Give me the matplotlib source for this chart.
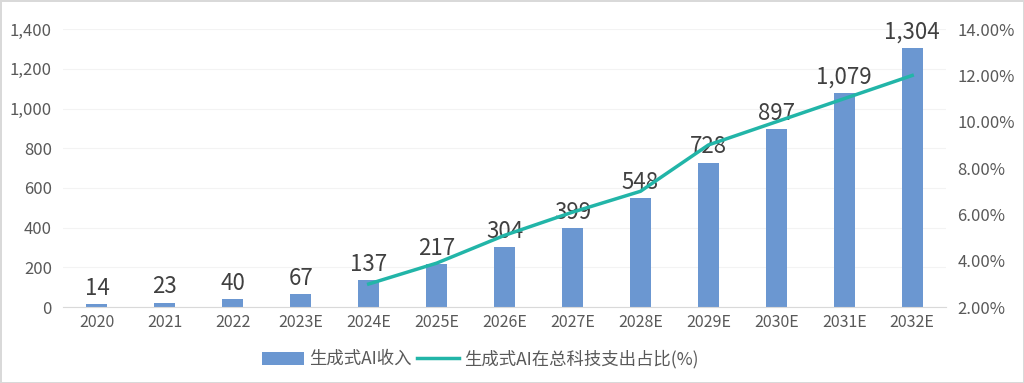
import matplotlib
matplotlib.use("Agg")
import matplotlib.pyplot as plt
from matplotlib.ticker import FuncFormatter

plt.rcParams['font.family'] = ['Noto Sans CJK SC', 'DejaVu Sans']

# data
years = ['2020', '2021', '2022', '2023E', '2024E', '2025E', '2026E',
         '2027E', '2028E', '2029E', '2030E', '2031E', '2032E']
revenue = [14, 23, 40, 67, 137, 217, 304, 399, 548, 728, 897, 1079, 1304]
share_years = years[4:]
share_pct = [3.0, 3.9, 5.1, 6.1, 7.0, 9.0, 10.0, 11.0, 12.0]

bar_color = '#6b97d1'
line_color = '#22b5a8'
text_color = '#404040'
tick_color = '#595959'

fig = plt.figure(figsize=(10.24, 3.83), dpi=100)
fig.patch.set_edgecolor('#d9d9d9')
fig.patch.set_linewidth(2)
ax = fig.add_axes([0.0615, 0.198, 0.8625, 0.726])

x = list(range(len(years)))
ax.bar(x, revenue, width=0.31, color=bar_color, zorder=2, label='生成式AI收入')
for xi, v in zip(x, revenue):
    ax.annotate(f'{v:,}', (xi, v), xytext=(0, 3), textcoords='offset points',
                ha='center', va='bottom', fontsize=16, color=text_color, zorder=5)

ax.set_xlim(-0.5, len(years) - 0.5)
ax.set_ylim(0, 1400)
ax.set_yticks(range(0, 1401, 200))
ax.yaxis.set_major_formatter(FuncFormatter(lambda v, p: f'{int(v):,}'))
ax.set_xticks(x)
ax.set_xticklabels(years)
ax.grid(axis='y', color='#f3f3f3', linewidth=0.8, zorder=0)
for s in ['top', 'right', 'left']:
    ax.spines[s].set_visible(False)
ax.spines['bottom'].set_color('#d9d9d9')
ax.tick_params(axis='y', length=0, labelsize=12, labelcolor=tick_color, pad=8)
ax.tick_params(axis='x', length=0, labelsize=11.5, labelcolor=tick_color, pad=5)

ax2 = ax.twinx()
xs = [years.index(y) for y in share_years]
ax2.plot(xs, share_pct, color=line_color, linewidth=2.5, zorder=3,
         label='生成式AI在总科技支出占比(%)')
ax2.set_ylim(2, 14)
ax2.set_yticks(range(2, 15, 2))
ax2.yaxis.set_major_formatter(FuncFormatter(lambda v, p: f'{v:.2f}%'))
for s in ['top', 'right', 'left', 'bottom']:
    ax2.spines[s].set_visible(False)
ax2.tick_params(axis='y', length=0, labelsize=12, labelcolor=tick_color, pad=8)

h1, l1 = ax.get_legend_handles_labels()
h2, l2 = ax2.get_legend_handles_labels()
fig.legend(h1 + h2, l1 + l2, loc='center', bbox_to_anchor=(0.469, 0.063),
           ncol=2, frameon=False, fontsize=12.5, labelcolor=tick_color,
           handlelength=2.4, handleheight=0.8, columnspacing=0.3, handletextpad=0.3)

fig.savefig('out.png', dpi=100)
